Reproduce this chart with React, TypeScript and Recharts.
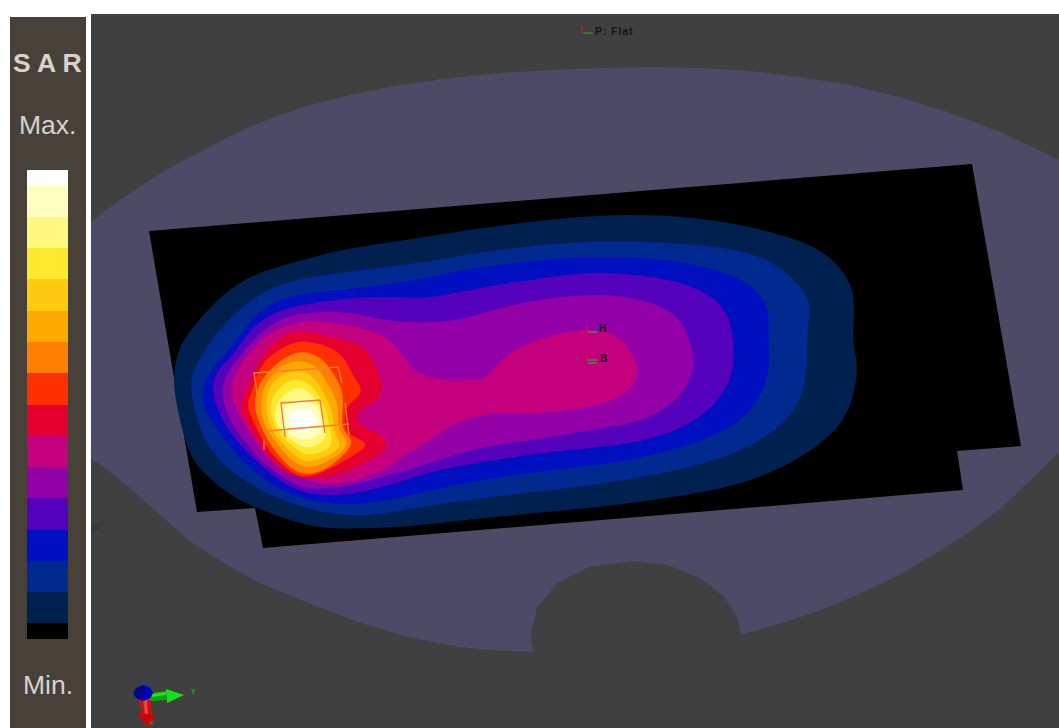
import { BarChart, Bar, XAxis, YAxis, ScatterChart, Scatter } from "recharts";

type Pt = [number, number];

// contour bands, lowest SAR first in page pixels
const NAVY: Pt[] = [[174,375],[180,348],[193,328],[213,305],[237,285],[263,272],[303,260],[353,248],[420,238],[483,228],[567,218],[630,215],[680,217],[730,223],[780,235],[813,247],[837,265],[850,285],[854,305],[853,328],[854,348],[857,368],[852,398],[837,428],[803,455],[763,475],[713,490],[630,503],[567,510],[483,518],[420,525],[370,528],[330,528],[297,522],[257,508],[227,492],[200,468],[187,445],[177,405]];
const DARK_BLUE: Pt[] = [[191,385],[197,365],[213,338],[237,312],[263,293],[290,282],[337,273],[420,263],[483,252],[567,243],[630,242],[697,245],[747,253],[780,268],[800,288],[810,307],[807,332],[807,362],[800,398],[780,425],[747,447],[697,465],[630,479],[567,488],[483,498],[420,507],[370,515],[330,513],[297,505],[267,493],[237,475],[213,452],[198,422]];
const BLUE: Pt[] = [[203,392],[210,372],[227,352],[240,335],[257,315],[280,300],[320,292],[370,287],[420,279],[483,267],[567,258],[630,258],[680,262],[730,275],[757,292],[768,313],[768,338],[769,365],[760,395],[737,422],[697,442],[630,460],[567,468],[483,480],[420,493],[370,503],[330,503],[293,495],[263,478],[237,455],[217,428],[205,408]];
const INDIGO: Pt[] = [[214,382],[220,368],[233,355],[247,335],[270,315],[303,305],[353,298],[400,297],[433,297],[483,287],[567,275],[607,273],[650,277],[680,283],[713,298],[730,322],[733,355],[730,378],[713,405],[680,428],[630,443],[567,450],[483,462],[433,472],[400,482],[370,490],[337,495],[303,492],[277,478],[250,455],[230,432],[215,402]];
const PURPLE: Pt[] = [[223,385],[233,365],[250,345],[267,328],[287,317],[310,313],[343,312],[370,317],[403,322],[433,322],[467,318],[500,308],[550,298],[600,295],[630,298],[663,308],[683,325],[692,352],[692,372],[680,395],[657,413],[630,423],[600,428],[533,440],[483,447],[433,462],[400,472],[387,475],[353,485],[320,488],[297,485],[270,468],[250,448],[233,425],[225,405]];
const MAGENTA: Pt[] = [[232,392],[238,368],[260,342],[277,330],[303,322],[330,323],[360,328],[387,338],[400,352],[410,365],[430,378],[473,380],[488,375],[503,358],[533,342],[567,332],[600,331],[623,342],[636,365],[633,385],[607,402],[567,410],[517,414],[487,414],[460,422],[440,433],[420,447],[400,458],[387,468],[357,480],[327,484],[303,478],[280,468],[260,448],[243,422],[235,405]];
const CRIMSON: Pt[] = [[241,405],[250,382],[263,355],[283,337],[303,332],[330,337],[360,345],[373,362],[381,382],[377,400],[363,408],[358,417],[363,427],[378,433],[386,443],[380,455],[360,465],[337,475],[313,478],[293,475],[273,462],[257,438],[245,418]];
const RED: Pt[] = [[248,403],[252,392],[260,368],[277,352],[300,341],[327,347],[343,357],[352,375],[361,388],[357,398],[348,405],[345,422],[350,435],[366,443],[357,453],[333,467],[310,476],[293,473],[273,455],[260,435],[250,413]];
const ORANGE: Pt[] = [[255,408],[258,388],[270,370],[287,357],[303,352],[320,358],[332,372],[341,388],[343,403],[342,422],[345,432],[352,442],[343,455],[327,468],[307,474],[290,467],[273,448],[262,428]];
const AMBER: Pt[] = [[261,408],[264,388],[275,373],[288,363],[303,362],[317,368],[328,385],[337,402],[338,420],[340,432],[347,443],[338,455],[323,463],[307,467],[292,460],[277,443],[266,427]];
const GOLD: Pt[] = [[267,410],[268,392],[278,378],[292,371],[305,372],[317,382],[327,400],[333,417],[334,432],[340,445],[332,453],[318,459],[305,461],[292,453],[278,438],[270,425]];
const YELLOW: Pt[] = [[271,413],[273,397],[283,385],[295,380],[307,383],[317,393],[325,408],[329,425],[332,442],[325,450],[313,454],[303,453],[292,445],[278,432]];
const PALE_YELLOW: Pt[] = [[275,417],[278,402],[288,392],[300,388],[312,395],[320,407],[325,423],[325,438],[315,446],[303,447],[292,440],[281,430]];
const CREAM: Pt[] = [[281,419],[285,407],[295,400],[307,400],[317,407],[322,420],[321,432],[310,439],[298,438],[286,431]];
const WHITE: Pt[] = [[288,420],[293,412],[302,409],[312,412],[317,420],[313,428],[303,432],[293,429]];

const BANDS: [Pt[], string][] = [
  [NAVY, "#00214f"], [DARK_BLUE, "#002a90"], [BLUE, "#0010c0"], [INDIGO, "#5500bb"],
  [PURPLE, "#9400a8"], [MAGENTA, "#c4007f"], [CRIMSON, "#e5002f"], [RED, "#ff2f00"],
  [ORANGE, "#ff8000"], [AMBER, "#ffaa00"], [GOLD, "#ffcb10"], [YELLOW, "#ffe92f"],
  [PALE_YELLOW, "#fff87f"], [CREAM, "#ffffc0"], [WHITE, "#ffffff"],
];

// phantom outline and the sheet under it
const PHANTOM: Pt[] = [[91,222],[105,211],[120,200],[135,190],[150,180],[175,165],[200,152],[225,139],[250,127],[275,117],[300,108],[325,101],[350,95],[375,90],[400,85],[450,78],[500,73],[550,70],[600,68],[650,67],[700,68],[750,71],[800,77],[850,85],[900,97],[950,113],[1000,132],[1030,146],[1059,160],[1059,452],[1031,480],[999,510],[965,535],[928,558],[895,577],[857,595],[821,610],[785,622],[741,635],[737,617],[725,597],[700,578],[668,565],[632,561],[589,567],[557,583],[537,608],[531,633],[533,652],[490,650],[458,647],[408,637],[358,622],[308,603],[258,582],[224,563],[191,542],[158,513],[124,483],[91,458]];
const SHEET: Pt[] = [[149,231],[972,164],[1021,446],[957,451],[963,490],[263,548],[255,508],[197,512]];
const SMUDGE: Pt[] = [[91,524],[106,522],[100,528],[91,532]];

// source box wireframe
const WIRES: Pt[][] = [
  [[257,393],[254,373],[338,367],[342,383]],
  [[345,403],[349,435]],
  [[264,440],[264,450]],
  [[267,431],[349,424]],
  [[285,437],[281,403],[320,400],[325,433]],
];

// axis triad glyphs
const TRIAD_GREEN: Pt[] = [[140,697],[152,693],[166,691],[166,700],[140,702]];
const TRIAD_GREEN_LIT: Pt[] = [[152,694],[166,692],[166,695],[152,697]];
const TRIAD_GREEN_TIP: Pt[] = [[166,689],[184,695],[167,703]];
const TRIAD_RED: Pt[] = [[139,700],[151,700],[152,714],[142,714]];
const TRIAD_RED_LIT: Pt[] = [[143,700],[147,700],[148,714],[145,714]];
const TRIAD_RED_TIP: Pt[] = [[136,713],[157,715],[147,726]];
const TRIAD_BLUE: Pt[] = [[133,693],[136,688],[143,685],[150,688],[153,693],[150,698],[143,701],[136,698]];
const TRIAD_BLUE_LIT: Pt[] = [[143,685],[150,688],[153,693],[150,698],[143,701]];
const MINI_TRIADS: [Pt[], string][] = [
  [[[582,26],[582,33]], "#d01818"], [[[583,33],[593,33]], "#1f9a2a"], [[[582,33],[582,36]], "#2030c0"],
  [[[587,325],[587,332]], "#e01030"], [[[588,332],[597,332]], "#3f9a3a"],
  [[[587,355],[587,362]], "#e01030"], [[[588,360],[597,360]], "#3f9a3a"], [[[588,363],[597,363]], "#3f9a3a"],
];

// legend, bottom row first; the two end rows are half height
const LEGEND_COLORS = ["#000000", "#00214f", "#002a90", "#0010c0", "#5500bb", "#9400a8", "#c4007f", "#e5002f", "#ff2f00", "#ff8000", "#ffaa00", "#ffcb10", "#ffe92f", "#fff87f", "#ffffc0", "#ffffff"];
const LEGEND_SIZES = [0.5, 1, 1, 1, 1, 1, 1, 1, 1, 1, 1, 1, 1, 1, 1, 0.5];
const legendRow: Record<string, number | string> = { name: "SAR" };
LEGEND_SIZES.forEach((s, i) => { legendRow["l" + i] = s; });

const toData = (pts: Pt[]) => pts.map(([x, y]) => ({ x, y }));
const noDot = () => <g />;

// a closed b-spline falls short of its control points, so push them out a bit
const pushOut = (pts: Pt[]): Pt[] =>
  pts.map(([x, y], i) => {
    const [px, py] = pts[(i + pts.length - 1) % pts.length];
    const [nx, ny] = pts[(i + 1) % pts.length];
    return [x + (x - (px + nx) / 2) / 3, y + (y - (py + ny) / 2) / 3];
  });

const area = (pts: Pt[], fill: string, key: string, joint: "basisClosed" | "linearClosed" = "linearClosed") => (
  <Scatter
    key={key}
    data={toData(pts)}
    shape={noDot}
    line={{ fill, stroke: "none" }}
    lineJointType={joint}
    isAnimationActive={false}
  />
);

const wire = (pts: Pt[], stroke: string, key: string, strokeWidth = 1) => (
  <Scatter
    key={key}
    data={toData(pts)}
    shape={noDot}
    line={{ stroke, strokeWidth, fill: "none" }}
    lineJointType="linear"
    isAnimationActive={false}
  />
);

const label = (text: string, left: number, top: number, style: React.CSSProperties) => (
  <div style={{ position: "absolute", left, top, whiteSpace: "nowrap", ...style }}>{text}</div>
);

export default function App() {
  const side = { fontFamily: "Liberation Sans", fontSize: 26.5, lineHeight: "30px", color: "#d8d2ca" };
  const tag = { fontFamily: "Liberation Sans", fontWeight: 700, fontSize: 10, lineHeight: "12px", color: "#151515" };
  return (
    <div style={{ position: "absolute", left: 0, top: 0, width: 1059, height: 728, overflow: "hidden", background: "#fff" }}>
      <div style={{ position: "absolute", left: 10, top: 17, width: 76, height: 711, background: "#474139" }} />
      <div style={{ position: "absolute", left: 91, top: 14, width: 968, height: 714, background: "#404040" }} />

      {label("S A R", 13, 48, { ...side, fontWeight: 700 })}
      {label("Max.", 19, 110, side)}
      {label("Min.", 23, 670, side)}

      <div style={{ position: "absolute", left: 27, top: 170 }}>
        <BarChart width={41} height={469} data={[legendRow]} margin={{ top: 0, right: 0, bottom: 0, left: 0 }} barCategoryGap={0}>
          <XAxis dataKey="name" hide />
          <YAxis hide domain={[0, 15]} />
          {LEGEND_COLORS.map((c, i) => (
            <Bar key={c} dataKey={"l" + i} stackId="sar" fill={c} shapeRendering="crispEdges" isAnimationActive={false} />
          ))}
        </BarChart>
      </div>

      <div style={{ position: "absolute", left: 0, top: 0 }}>
        <ScatterChart width={1059} height={728} margin={{ top: 0, right: 0, bottom: 0, left: 0 }}>
          <XAxis type="number" dataKey="x" domain={[0, 1059]} hide />
          <YAxis type="number" dataKey="y" domain={[0, 728]} reversed hide />
          {area(PHANTOM, "#4c4a66", "phantom")}
          {area(SMUDGE, "#3a3a3a", "smudge")}
          {area(SHEET, "#000000", "sheet")}
          {BANDS.map(([pts, c]) => area(pushOut(pts), c, c, "basisClosed"))}
          {WIRES.map((pts, i) => wire(pts, "#ff7a2a", "wire" + i, 1.4))}
          {MINI_TRIADS.map(([pts, c], i) => wire(pts, c, "mini" + i, 1.3))}
          {area(TRIAD_GREEN, "#0ca80c", "tg")}
          {area(TRIAD_GREEN_LIT, "#22e022", "tgl")}
          {area(TRIAD_GREEN_TIP, "#18e018", "tgt")}
          {area(TRIAD_RED, "#c81010", "tr")}
          {area(TRIAD_RED_LIT, "#f04040", "trl")}
          {area(TRIAD_RED_TIP, "#c80808", "trt")}
          {area(TRIAD_BLUE, "#00088c", "tb")}
          {area(TRIAD_BLUE_LIT, "#0000c0", "tbl")}
        </ScatterChart>
      </div>

      {label("P: Flat", 595, 25, { ...tag, fontSize: 10.5, letterSpacing: 0.9 })}
      {label("H", 599, 323, tag)}
      {label("B", 600, 353, tag)}
      {label("Y", 191, 688, { ...tag, fontSize: 7, lineHeight: "8px", color: "#18b018" })}
      {label("Z", 143, 680, { ...tag, fontSize: 6, lineHeight: "7px", color: "#1040d0" })}
      {label("X", 149, 720, { ...tag, fontSize: 6, lineHeight: "7px", color: "#c05010" })}
    </div>
  );
}
